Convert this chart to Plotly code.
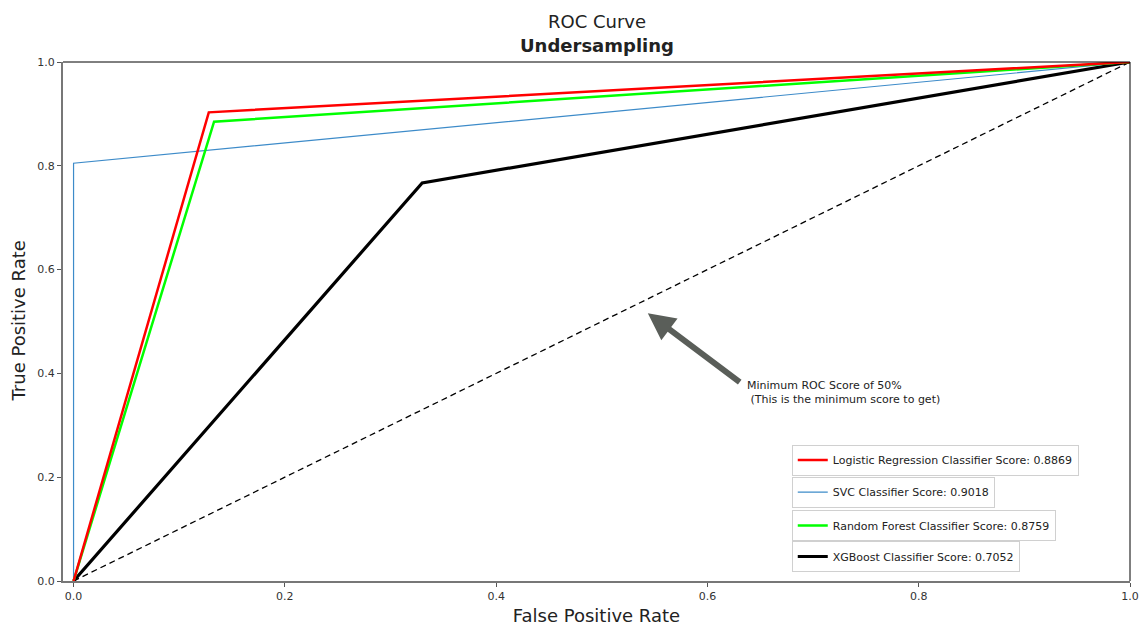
import plotly.graph_objects as go

# ROC curve points
log_fpr = [0.0, 0.128, 1.0]
log_tpr = [0.0, 0.903, 1.0]
svc_fpr = [0.0, 0.0, 1.0]
svc_tpr = [0.0, 0.805, 1.0]
rf_fpr = [0.0, 0.133, 1.0]
rf_tpr = [0.0, 0.885, 1.0]
xgb_fpr = [0.0, 0.330, 1.0]
xgb_tpr = [0.0, 0.767, 1.0]
diag = [0.0, 1.0]

names = [
    "Logistic Regression Classifier Score: 0.8869",
    "SVC Classifier Score: 0.9018",
    "Random Forest Classifier Score: 0.8759",
    "XGBoost Classifier Score: 0.7052",
]
ticks = [0.0, 0.2, 0.4, 0.6, 0.8, 1.0]

FONT = "DejaVu Sans"

fig = go.Figure()
fig.add_trace(go.Scatter(x=diag, y=diag, mode="lines", showlegend=False,
                         line=dict(color="black", width=1.3, dash="6px,4px")))
fig.add_trace(go.Scatter(x=xgb_fpr, y=xgb_tpr, mode="lines", name=names[3], legend="legend4",
                         line=dict(color="black", width=3.2)))
fig.add_trace(go.Scatter(x=svc_fpr, y=svc_tpr, mode="lines", name=names[1], legend="legend2",
                         line=dict(color="#3d8bc9", width=1.2)))
fig.add_trace(go.Scatter(x=rf_fpr, y=rf_tpr, mode="lines", name=names[2], legend="legend3",
                         line=dict(color="#00ff00", width=2.5)))
fig.add_trace(go.Scatter(x=log_fpr, y=log_tpr, mode="lines", name=names[0], legend="legend",
                         line=dict(color="#ff0000", width=2.5)))

def leg(y):
    return dict(x=0.683, y=y, xanchor="left", yanchor="top", bgcolor="white",
                bordercolor="#d0d0d0", borderwidth=1, font=dict(family=FONT, size=11, color="#222"),
                tracegroupgap=0, itemwidth=30)

fig.add_annotation(x=0.5436, y=0.516, ax=0.632, ay=0.381, xref="x", yref="y", axref="x", ayref="y",
                   text="", showarrow=True, arrowhead=2, arrowsize=0.9, arrowwidth=6,
                   arrowcolor="#5a5e59")
fig.add_annotation(x=0.636, y=0.393, xref="x", yref="y", xanchor="left", yanchor="top",
                   showarrow=False, align="left",
                   text="Minimum ROC Score of 50%<br> (This is the minimum score to get)",
                   font=dict(family=FONT, size=11, color="#222"))

# two-line title
fig.add_annotation(x=0.5, y=1, xref="paper", yref="paper", yanchor="middle", yshift=41,
                   showarrow=False, text="ROC Curve",
                   font=dict(family=FONT, size=18, color="#222"))
fig.add_annotation(x=0.5, y=1, xref="paper", yref="paper", yanchor="middle", yshift=17,
                   showarrow=False, text="<b>Undersampling</b>",
                   font=dict(family=FONT, size=18, color="#222"))
# y axis title
fig.add_annotation(x=0, y=0.5, xref="paper", yref="paper", xanchor="center", yanchor="middle",
                   xshift=-45, textangle=-90, showarrow=False, text="True Positive Rate",
                   font=dict(family=FONT, size=18, color="#222"))

fig.update_layout(
    width=1142, height=626,
    margin=dict(l=63, r=12, t=62, b=45, autoexpand=False),
    paper_bgcolor="white", plot_bgcolor="white",
    font=dict(family=FONT, color="#222"),
    legend=leg(0.263), legend2=leg(0.2013), legend3=leg(0.1368), legend4=leg(0.0771),
    xaxis=dict(range=[-0.01, 1.0], tickvals=ticks, tickformat=".1f", ticks="outside", ticklen=4,
               tickcolor="#555", showgrid=False, zeroline=False, showline=True, linecolor="#777",
               linewidth=2, automargin=False, tickfont=dict(size=11, color="#333"),
               title=dict(text="False Positive Rate", font=dict(size=18, color="#222"))),
    yaxis=dict(range=[0, 1.0], tickvals=ticks, tickformat=".1f", ticks="outside", ticklen=4,
               tickcolor="#555", showgrid=False, zeroline=False, showline=True, linecolor="#777",
               linewidth=2, automargin=False, tickfont=dict(size=11, color="#333")),
)
# top and right thin black spines
fig.add_shape(type="line", xref="paper", yref="paper", x0=0, x1=1, y0=1, y1=1,
              line=dict(color="black", width=1))
fig.add_shape(type="line", xref="paper", yref="paper", x0=1, x1=1, y0=0, y1=1,
              line=dict(color="black", width=1))

fig.write_html("out.html", config={"displayModeBar": False},
               post_script="document.body.style.margin='0';document.body.style.overflow='hidden';")
